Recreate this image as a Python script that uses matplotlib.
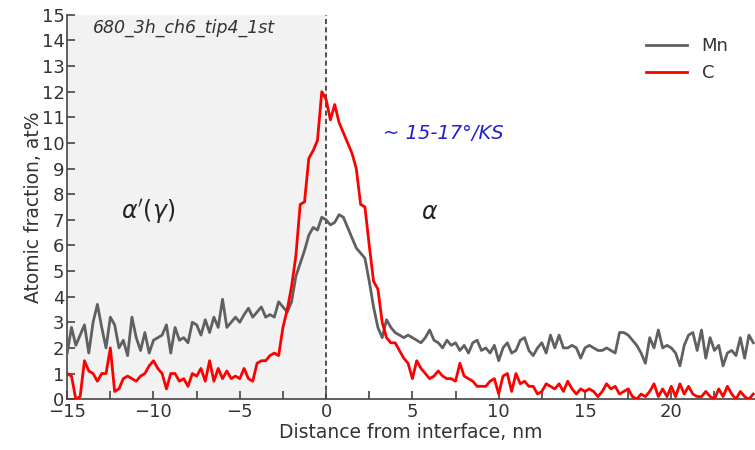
import numpy as np
import matplotlib
matplotlib.use("Agg")
import matplotlib.pyplot as plt
from matplotlib.ticker import MultipleLocator

# distance from interface, nm (step 0.25)
distancia = np.arange(-15, 25, 0.25)

mn = [
    # -15 .. -10
    1.8, 2.8, 2.1, 2.5, 2.9, 1.8, 3.0, 3.7, 2.8, 2.0, 3.2, 2.9, 2.0, 2.3, 1.7, 3.2, 2.4, 1.9, 2.6, 1.8,
    # -10 .. -5
    2.3, 2.4, 2.5, 2.9, 1.8, 2.8, 2.3, 2.4, 2.2, 3.0, 2.9, 2.5, 3.1, 2.6, 3.2, 2.8, 3.9, 2.8, 3.0, 3.2,
    # -5 .. 0
    3.0, 3.3, 3.55, 3.2, 3.4, 3.6, 3.2, 3.3, 3.2, 3.8, 3.6, 3.4, 3.8, 4.8, 5.3, 5.8, 6.4, 6.7, 6.6, 7.1,
    # 0 .. 5
    7.0, 6.8, 6.9, 7.2, 7.1, 6.7, 6.3, 5.9, 5.7, 5.5, 4.6, 3.6, 2.8, 2.4, 3.1, 2.8, 2.6, 2.5, 2.4, 2.5,
    # 5 .. 10
    2.4, 2.3, 2.2, 2.4, 2.7, 2.3, 2.2, 2.0, 2.3, 2.1, 2.2, 1.9, 2.1, 1.8, 2.2, 2.3, 1.9, 2.0, 1.8, 2.1,
    # 10 .. 15
    1.5, 2.0, 2.2, 1.8, 1.9, 2.3, 2.4, 1.9, 1.7, 2.0, 2.2, 1.8, 2.5, 2.0, 2.5, 2.0, 2.0, 2.1, 2.0, 1.6,
    # 15 .. 20
    2.0, 2.1, 2.0, 1.9, 1.9, 2.0, 1.9, 1.8, 2.6, 2.6, 2.5, 2.3, 2.1, 1.8, 1.4, 2.4, 2.0, 2.7, 2.0, 2.1,
    # 20 .. 25
    2.0, 1.8, 1.3, 2.1, 2.5, 2.6, 1.9, 2.7, 1.6, 2.4, 1.9, 2.1, 1.3, 1.8, 1.9, 1.7, 2.4, 1.6, 2.5, 2.2,
]

c = [
    # -15 .. -10
    1.0, 0.9, 0.0, 0.1, 1.5, 1.1, 1.0, 0.7, 1.0, 1.0, 2.0, 0.3, 0.4, 0.8, 0.9, 0.8, 0.7, 0.9, 1.0, 1.3,
    # -10 .. -5
    1.5, 1.2, 1.0, 0.4, 1.0, 1.0, 0.7, 0.8, 0.5, 1.0, 0.9, 1.2, 0.7, 1.5, 0.7, 1.2, 0.8, 1.1, 0.8, 0.9,
    # -5 .. 0
    0.8, 1.2, 0.8, 0.7, 1.4, 1.5, 1.5, 1.7, 1.8, 1.7, 2.8, 3.5, 4.4, 5.6, 7.6, 7.7, 9.4, 9.7, 10.1, 12.0,
    # 0 .. 5
    11.7, 10.9, 11.5, 10.8, 10.4, 10.0, 9.6, 9.0, 7.6, 7.5, 6.0, 4.6, 4.3, 3.0, 2.4, 2.2, 2.2, 1.9, 1.6, 1.4,
    # 5 .. 10
    0.8, 1.5, 1.2, 1.0, 0.8, 0.9, 1.1, 0.9, 0.8, 0.8, 0.7, 1.4, 0.9, 0.8, 0.7, 0.5, 0.5, 0.5, 0.7, 0.8,
    # 10 .. 15
    0.2, 0.9, 1.0, 0.3, 1.0, 0.6, 0.7, 0.5, 0.5, 0.2, 0.3, 0.6, 0.5, 0.4, 0.6, 0.3, 0.7, 0.4, 0.2, 0.4,
    # 15 .. 20
    0.3, 0.4, 0.3, 0.1, 0.3, 0.6, 0.4, 0.5, 0.2, 0.3, 0.4, 0.1, 0.0, 0.2, 0.1, 0.3, 0.6, 0.1, 0.4, 0.1,
    # 20 .. 25
    0.5, 0.1, 0.6, 0.2, 0.5, 0.2, 0.1, 0.1, 0.3, 0.1, 0.0, 0.4, 0.1, 0.5, 0.2, 0.0, 0.3, 0.1, 0.0, 0.2,
]

plt.rcParams['font.family'] = ['DejaVu Sans']
plt.rcParams['mathtext.fontset'] = 'dejavusans'

fig = plt.figure(figsize=(7.55, 4.5), dpi=100)
ax = fig.add_axes([0.089, 0.113, 0.911, 0.854])

# zona sombreada a la izquierda de la intercara
ax.axvspan(-15, 0, color='#f2f2f2', zorder=0)
ax.axvline(0, color='#333333', linestyle=(0, (3, 2)), linewidth=1.2, zorder=1)

ax.plot(distancia, mn, color='#606060', linewidth=2.0, label='Mn', zorder=3)
ax.plot(distancia, c, color='#ff0000', linewidth=2.0, label='C', zorder=3)

ax.set_xlim(-15, 24.85)
ax.set_ylim(0, 15)
ax.xaxis.set_major_locator(MultipleLocator(5))
ax.xaxis.set_minor_locator(MultipleLocator(2.5))
ax.yaxis.set_major_locator(MultipleLocator(1))

for s in ['top', 'right']:
    ax.spines[s].set_visible(False)
for s in ['left', 'bottom']:
    ax.spines[s].set_color('#444444')
    ax.spines[s].set_linewidth(1.2)

ax.tick_params(axis='both', which='major', direction='in', length=6, width=1.2,
               colors='#444444', labelcolor='#333333', labelsize=13)
ax.tick_params(axis='x', which='minor', direction='in', length=6, width=1.2, colors='#444444')
ax.tick_params(axis='y', pad=2)
ax.tick_params(axis='x', pad=3)

ax.set_xlabel('Distance from interface, nm', fontsize=13.5, color='#333333', labelpad=1)
ax.set_ylabel('Atomic fraction, at%', fontsize=13.5, color='#333333', labelpad=-1)

ax.text(-13.5, 14.5, '680_3h_ch6_tip4_1st', fontsize=12.5, style='italic',
        color='#333333', va='center', ha='left')
ax.text(-10.3, 7.3, r"$\alpha'(\gamma)$", fontsize=17, color='#222222', ha='center', va='center')
ax.text(6.0, 7.3, r'$\alpha$', fontsize=17, color='#222222', ha='center', va='center')
ax.text(3.3, 10.35, '~ 15-17°/KS', fontsize=14, style='italic', color='#2222cc',
        ha='left', va='center')

leg = ax.legend(loc='upper right', bbox_to_anchor=(0.985, 0.985), frameon=False,
                fontsize=13, handlelength=2.3, handletextpad=0.8, labelspacing=0.5)
for t in leg.get_texts():
    t.set_color('#333333')

plt.savefig('out.png', dpi=100)
